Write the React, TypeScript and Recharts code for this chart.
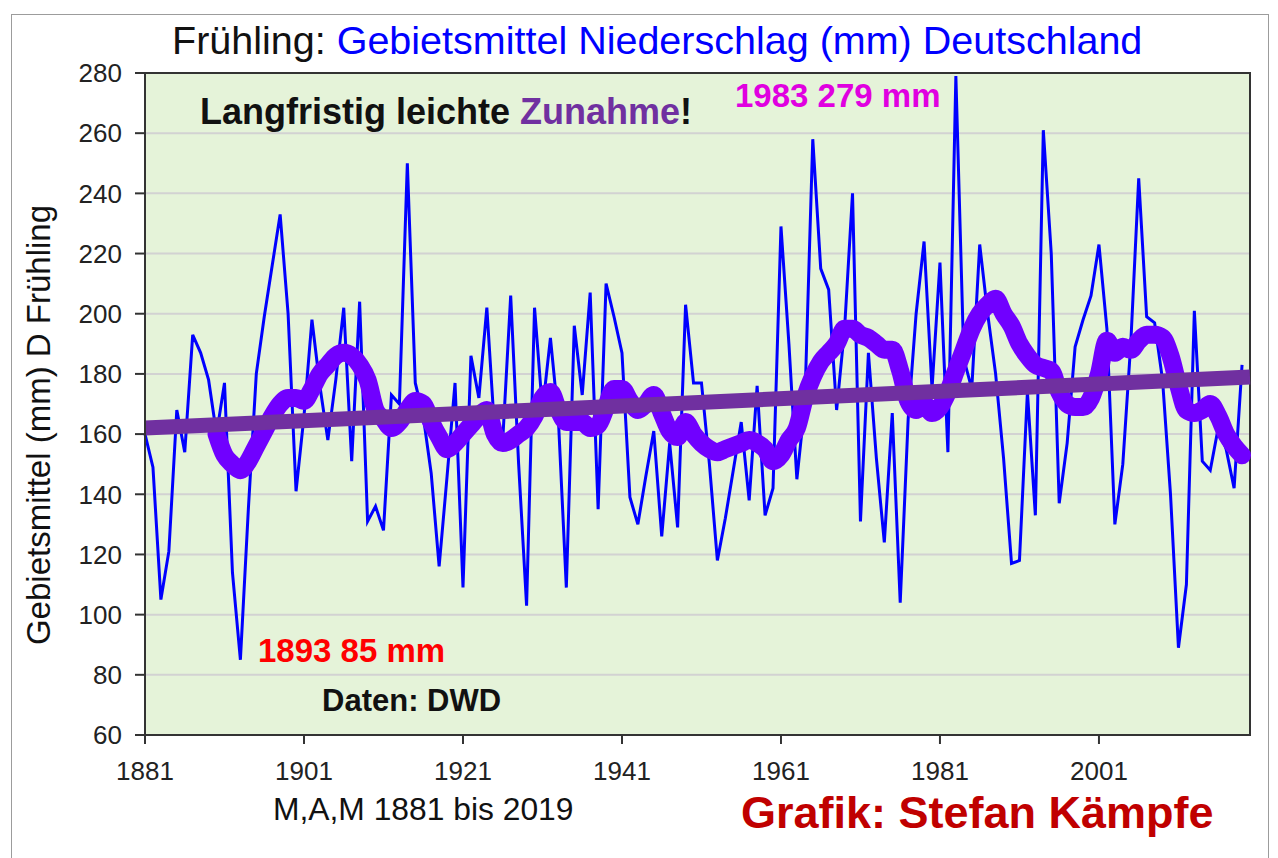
import { LineChart, Line, XAxis, YAxis, CartesianGrid, ReferenceArea } from 'recharts';

// Frühling (M,A,M) Gebietsmittel Niederschlag Deutschland, mm
const firstYear = 1881;
const years = Array.from({ length: 139 }, (_, i) => firstYear + i);

const precip = [
    160, 149, 105, 121, 168, 154, 193, 187, 178, 160, // 1881-1890
    177, 114, 85, 135, 180, 199, 216, 233, 200, 141, // 1891-1900
    166, 198, 176, 158, 178, 202, 151, 204, 131, 136, // 1901-1910
    128, 173, 170, 250, 177, 166, 147, 116, 146, 177, // 1911-1920
    109, 186, 172, 202, 160, 158, 206, 150, 103, 202, // 1921-1930
    168, 192, 165, 109, 196, 173, 207, 135, 210, 199, // 1931-1940
    187, 139, 130, 146, 161, 126, 157, 129, 203, 177, // 1941-1950
    177, 150, 118, 132, 148, 164, 138, 176, 133, 142, // 1951-1960
    229, 190, 145, 170, 258, 215, 208, 168, 195, 240, // 1961-1970
    131, 187, 152, 124, 167, 104, 165, 200, 224, 175, // 1971-1980
    217, 154, 279, 185, 175, 223, 200, 180, 152, 117, // 1981-1990
    118, 174, 133, 261, 220, 137, 157, 189, 198, 206, // 1991-2000
    223, 195, 130, 150, 190, 245, 199, 197, 178, 140, // 2001-2010
    89, 110, 201, 151, 148, 162, 155, 142, 183, // 2011-2019
];

// gleitender Mittelwert, ab 1890
const smoothStart = 1890;
const smooth = [
    160, 153, 150, 148, 151, 156, 161, 166, 170, 172, // 1890-1899
    172, 171, 175, 180, 183, 186, 187, 186, 183, 178, // 1900-1909
    168, 165, 162, 164, 168, 171, 170, 164, 159, 155, // 1910-1919
    157, 160, 163, 166, 168, 160, 157, 158, 160, 162, // 1920-1929
    166, 172, 174, 168, 164, 164, 164, 162, 163, 169, // 1930-1939
    175, 175, 171, 168, 170, 173, 167, 161, 159, 164, // 1940-1949
    160, 157, 155, 154, 155, 156, 157, 158, 157, 155, // 1950-1959
    151, 153, 158, 162, 172, 179, 184, 187, 190, 195, // 1960-1969
    195, 193, 192, 190, 188, 188, 181, 171, 168, 170, // 1970-1979
    167, 169, 174, 181, 188, 195, 200, 203, 205, 200, // 1980-1989
    196, 190, 186, 183, 182, 181, 174, 170, 169, 169, // 1990-1999
    172, 180, 191, 187, 189, 188, 191, 193, 193, 192, // 2000-2009
    186, 176, 168, 167, 168, 170, 166, 160, 156, 153, // 2010-2019
];

// linearer Trend: Anfangs- und Endwert
const trendYears = [1881, 2020];
const trendValues = [162, 179];

const xTicks = [1881, 1901, 1921, 1941, 1961, 1981, 2001];
const yTicks = [60, 80, 100, 120, 140, 160, 180, 200, 220, 240, 260, 280];

const data = [...years, 2020].map((year, i) => {
    const t = trendYears.indexOf(year);
    const s = year - smoothStart;
    return {
        year,
        precip: i < precip.length ? precip[i] : null,
        smooth: s >= 0 && s < smooth.length ? smooth[s] : null,
        trend: t >= 0 ? trendValues[t] : null,
    };
});

const font = '"Liberation Sans", Arial, sans-serif';

const abs = (left: number, top: number, size: number, bold = false): React.CSSProperties => ({
    position: 'absolute',
    left,
    top,
    fontSize: size,
    fontWeight: bold ? 'bold' : 'normal',
    lineHeight: 1,
    whiteSpace: 'pre',
    fontFamily: font,
});

export default function App() {
    return (
        <div style={{ position: 'relative', width: 1278, height: 858, background: '#fff', overflow: 'hidden', fontFamily: font }}>
            <style>{'body{margin:0}'}</style>
            <div style={{ position: 'absolute', left: 11, top: 14, right: 9, bottom: -5, border: '1px solid #9c9c9c' }} />

            <LineChart width={1278} height={858} data={data}
                margin={{ top: 73, right: 28, left: 65, bottom: 63 }}>
                <CartesianGrid vertical={false} stroke="#d2d2d2" strokeWidth={2} fill="#e5f3d9" />
                <XAxis dataKey="year" type="number" domain={[1881, 2020]} ticks={xTicks} interval={0}
                    height={60} tickSize={9} tickMargin={18}
                    tick={{ fontSize: 26, fill: '#222', fontFamily: font }}
                    tickLine={{ stroke: '#333', strokeWidth: 2 }} axisLine={{ stroke: '#333', strokeWidth: 2 }} />
                <YAxis domain={[60, 280]} ticks={yTicks} interval={0} width={80} tickSize={10} tickMargin={13}
                    tick={{ fontSize: 26, fill: '#222', fontFamily: font }}
                    tickLine={{ stroke: '#333', strokeWidth: 2 }} axisLine={{ stroke: '#333', strokeWidth: 2 }} />
                <Line dataKey="precip" type="linear" stroke="#0000ff" strokeWidth={3} dot={false}
                    isAnimationActive={false} />
                <Line dataKey="smooth" type="monotone" stroke="#7000ff" strokeWidth={18} dot={false}
                    strokeLinecap="round" strokeLinejoin="round" isAnimationActive={false} />
                <Line dataKey="trend" type="linear" stroke="#7030a0" strokeWidth={15} dot={false}
                    connectNulls isAnimationActive={false} />
                <ReferenceArea x1={1881} x2={2020} y1={60} y2={280} fill="none" stroke="#333" strokeWidth={2} />
            </LineChart>

            <div style={abs(172, 21, 39.5)}>
                <span style={{ color: '#111' }}>Frühling: </span>
                <span style={{ color: '#0000ff' }}>Gebietsmittel Niederschlag (mm) Deutschland</span>
            </div>
            <div style={abs(200, 94, 36, true)}>
                <span style={{ color: '#111' }}>Langfristig leichte </span>
                <span style={{ color: '#7030a0' }}>Zunahme</span>
                <span style={{ color: '#111' }}>!</span>
            </div>
            <div style={{ ...abs(735, 79, 33, true), color: '#e000e0' }}>1983 279 mm</div>
            <div style={{ ...abs(258, 634, 33, true), color: '#ff0000' }}>1893 85 mm</div>
            <div style={{ ...abs(322, 685, 31, true), color: '#111' }}>Daten: DWD</div>
            <div style={{ ...abs(273, 794, 31.8), color: '#111' }}>M,A,M 1881 bis 2019</div>
            <div style={{ ...abs(741, 790, 45, true), color: '#c00000' }}>Grafik: Stefan Kämpfe</div>
            <div style={{
                ...abs(38, 425, 33), color: '#111',
                transform: 'translate(-50%, -50%) rotate(-90deg)',
            }}>Gebietsmittel (mm) D Frühling</div>
        </div>
    );
}
